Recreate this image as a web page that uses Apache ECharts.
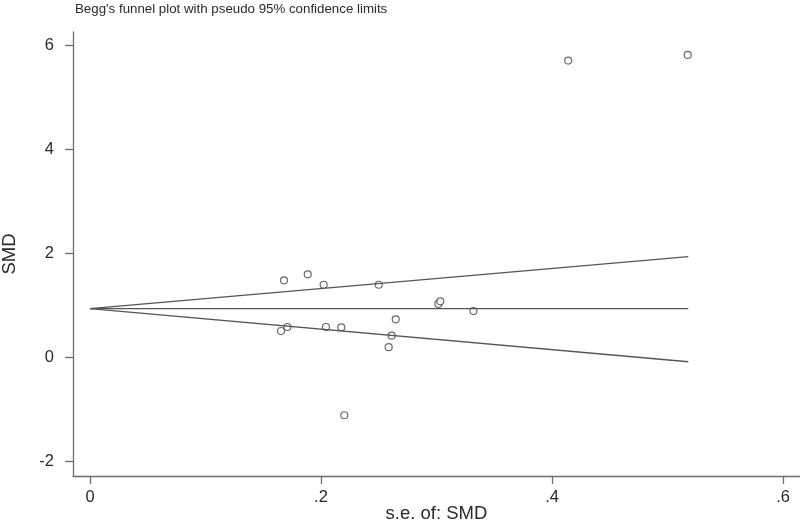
<!DOCTYPE html>
<html><head><meta charset="utf-8">
<script src="https://cdn.jsdelivr.net/npm/echarts@6/dist/echarts.min.js"></script>
<style>html,body{margin:0;padding:0;background:#fff}#c{width:800px;height:521px}</style>
</head><body><div id="c"></div>
<script>
// study points: standard error and SMD
const seValues  = [0.414, 0.5175, 0.168, 0.1885, 0.2023, 0.250, 0.3016, 0.3033, 0.332, 0.2647, 0.1654, 0.1709, 0.2043, 0.2176, 0.2612, 0.2586, 0.2202];
const smdValues = [5.70, 5.81, 1.475, 1.59, 1.39, 1.39, 1.02, 1.07, 0.885, 0.725, 0.50, 0.577, 0.577, 0.571, 0.41, 0.19, -1.12];
// funnel lines (endpoints)
const lineSE    = [0, 0.518];
const upperLine = [0.93, 1.93];
const midLine   = [0.93, 0.93];
const lowerLine = [0.93, -0.09];
// tick labels
const xTicks = [0, 0.2, 0.4, 0.6];
const xTickLabels = ['0', '.2', '.4', '.6'];
const yTicks = [-2, 0, 2, 4, 6];

const pts = seValues.map((s, i) => [s, smdValues[i]]);
const mk = arr => lineSE.map((s, i) => [s, arr[i]]);
const axisCol = '#6e6e6e';
const txtCol = '#2a2a2a';
const font = 'Liberation Sans, Arial, sans-serif';

const chart = echarts.init(document.getElementById('c'), null, {renderer: 'canvas'});
chart.setOption({
  animation: false,
  backgroundColor: '#fff',
  title: {
    text: "Begg's funnel plot with pseudo 95% confidence limits",
    left: 70, top: -2,
    textStyle: {fontFamily: font, fontSize: 13.3, fontWeight: 'normal', color: txtCol}
  },
  grid: {left: 73, right: 0, top: 32, bottom: 45, containLabel: false, outerBoundsMode: 'none'},
  xAxis: {
    type: 'value', min: -0.0147, max: 0.6147,
    name: 's.e. of: SMD', nameLocation: 'middle', nameGap: 28, nameMoveOverlap: false,
    nameTextStyle: {fontFamily: font, fontSize: 18.5, color: txtCol},
    axisLine: {show: true, onZero: false, lineStyle: {color: axisCol, width: 1.3}},
    axisTick: {show: true, length: 8, customValues: xTicks, lineStyle: {color: axisCol, width: 1.3}},
    axisLabel: {
      customValues: xTicks, margin: 13,
      fontFamily: font, fontSize: 16.5, color: txtCol,
      formatter: v => xTickLabels[xTicks.findIndex(t => Math.abs(t - v) < 1e-9)]
    },
    splitLine: {show: false}
  },
  yAxis: {
    type: 'value', min: -2.288, max: 6.25,
    name: 'SMD', nameLocation: 'middle', nameGap: 54, nameMoveOverlap: false,
    nameTextStyle: {fontFamily: font, fontSize: 18.5, color: txtCol},
    axisLine: {show: true, onZero: false, lineStyle: {color: axisCol, width: 1.3}},
    axisTick: {show: true, length: 8, customValues: yTicks, lineStyle: {color: axisCol, width: 1.3}},
    axisLabel: {customValues: yTicks, margin: 19, fontFamily: font, fontSize: 16.5, color: txtCol},
    splitLine: {show: false}
  },
  series: [
    {type: 'line', data: mk(upperLine), symbol: 'none', lineStyle: {color: '#555', width: 1.4}},
    {type: 'line', data: mk(midLine), symbol: 'none', lineStyle: {color: '#555', width: 1.4}},
    {type: 'line', data: mk(lowerLine), symbol: 'none', lineStyle: {color: '#555', width: 1.4}},
    {type: 'scatter', data: pts, symbol: 'circle', symbolSize: 7,
     itemStyle: {color: '#fff', borderColor: '#444', borderWidth: 1.2}}
  ]
});
</script></body></html>
